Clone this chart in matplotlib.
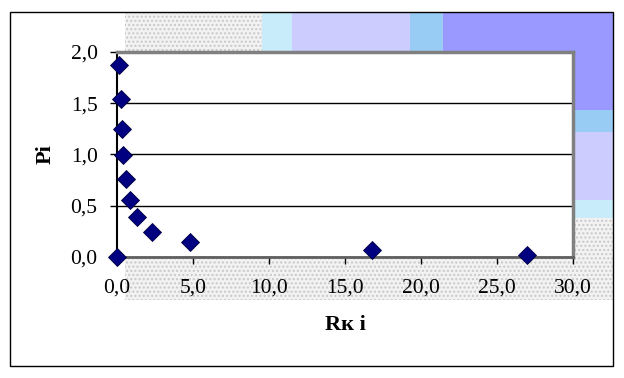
import matplotlib.pyplot as plt
from matplotlib.patches import Rectangle

# datos
Rk = [0.15, 0.27, 0.35, 0.42, 0.6, 0.86, 1.32, 2.3, 4.83, 0.0, 16.8, 27.0]
Pi = [1.87, 1.54, 1.25, 0.99, 0.76, 0.55, 0.39, 0.24, 0.14, 0.0, 0.065, 0.017]

xticks = [0, 5, 10, 15, 20, 25, 30]
yticks = [0.0, 0.5, 1.0, 1.5, 2.0]

plt.rcParams['font.family'] = ['Liberation Serif', 'DejaVu Serif']

W, H = 624, 378
fig = plt.figure(figsize=(W / 100, H / 100), dpi=100)

def caja(x0, y0, x1, y1, color, hatch=None):
    # coordenadas en pixeles desde arriba-izquierda
    r = Rectangle((x0 / W, 1 - y1 / H), (x1 - x0) / W, (y1 - y0) / H,
                  transform=fig.transFigure, facecolor=color, edgecolor='none',
                  zorder=0)
    if hatch:
        r.set_hatch(hatch)
        r.set_edgecolor('#c8c8c8')
        r.set_linewidth(0)
    fig.patches.append(r)

# manchas del fondo
caja(125, 13, 262, 52, '#f2f2f2', '....')
caja(262, 13, 292, 52, '#c8ecfa')
caja(292, 13, 410, 52, '#ccccff')
caja(410, 13, 443, 52, '#99ccf5')
caja(443, 13, 613, 52, '#9999ff')
caja(573, 52, 613, 110, '#9999ff')
caja(573, 110, 613, 132, '#99ccf5')
caja(573, 132, 613, 200, '#ccccff')
caja(573, 200, 613, 218, '#c8ecfa')
caja(573, 218, 613, 300, '#f2f2f2', '....')
caja(125, 257, 573, 300, '#f2f2f2', '....')

# marco exterior
fig.patches.append(Rectangle((10 / W, 1 - 366 / H), 603 / W, 354 / H,
                             transform=fig.transFigure, facecolor='none',
                             edgecolor='black', linewidth=1, zorder=1))

ax = fig.add_axes([117 / W, 1 - 256.7 / H, 456 / W, 204.7 / H])
ax.set_facecolor('white')
ax.set_zorder(2)

ax.plot(Rk, Pi, linestyle='none', marker='D', ms=9.5, color='#000080',
        markeredgecolor='#000040', markeredgewidth=0.6, clip_on=False, zorder=5)

ax.set_xlim(0, 30)
ax.set_ylim(0, 2)
ax.set_xticks(xticks)
ax.set_yticks(yticks)
ax.set_xticklabels([f'{v:.1f}'.replace('.', ',') for v in xticks], fontsize=15.5)
ax.set_yticklabels([f'{v:.1f}'.replace('.', ',') for v in yticks], fontsize=15.5)
ax.grid(axis='y', color='black', linewidth=1)
ax.set_axisbelow(True)

for s in ['top', 'right']:
    ax.spines[s].set_color('#808080')
    ax.spines[s].set_linewidth(2.5)
ax.spines['left'].set_color('black')
ax.spines['left'].set_linewidth(1.5)
ax.spines['bottom'].set_color('#606060')
ax.spines['bottom'].set_linewidth(2)
ax.tick_params(direction='out', length=5, width=1, colors='black')
ax.tick_params(axis='x', pad=11)
ax.tick_params(axis='y', pad=9)

ax.set_xlabel('Rк i', fontsize=16, fontweight='bold', labelpad=12)
ax.set_ylabel('Pi', fontsize=16, fontweight='bold', labelpad=11)

fig.savefig('out.png', dpi=100)
